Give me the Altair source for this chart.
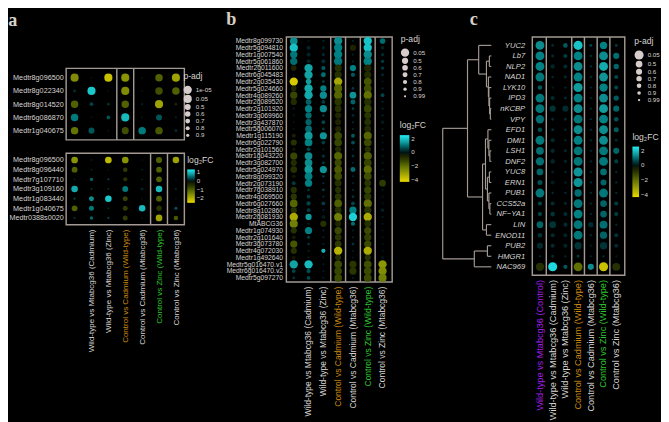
import json
import altair as alt
import pandas as pd

FONT = "Liberation Sans, Arial, sans-serif"
TXT = "#d8d5d2"
BOX = "#a39a94"
ORANGE = "#cc8a12"
GREEN = "#2fc52f"
PURPLE = "#a21ee8"

# ---------------- comparisons (x) ----------------
comparisons = [
    "Wild-type vs Mtabcg36 (Control)",
    "Wild-type vs Mtabcg36 (Cadmium)",
    "Wild-type vs Mtabcg36 (Zinc)",
    "Control vs Cadmium (Wild-type)",
    "Control vs Cadmium (Mtabcg36)",
    "Control vs Zinc (Wild-type)",
    "Control vs Zinc (Mtabcg36)",
]
labels_ab = [""] + comparisons[1:]
colors_ab = {4: ORANGE, 6: GREEN}
colors_c = {1: PURPLE, 4: ORANGE, 6: GREEN}

# ---------------- panel a (top) ----------------
a_top_genes = ["Medtr8g096500", "Medtr8g022340", "Medtr8g014520", "Medtr6g086870", "Medtr1g040675"]
a_top_bold = ["Medtr8g096500", "Medtr1g040675"]
a_top_lfc = [
    [-1.5, 0.0, -2.2, -1.6, 0.0, -1.0, -1.8],
    [0.2, 1.1, 0.0, -1.5, 0.0, -0.8, -1.0],
    [-1.0, 0.3, 0.2, -1.0, 0.1, -1.8, -0.3],
    [0.6, 0.0, 0.4, 1.0, 0.0, 0.4, 0.1],
    [-1.2, 0.4, 0.0, -0.8, 0.6, -0.9, 0.2],
]
a_top_padj = [
    [0.05, 0.99, 0.05, 0.05, 0.99, 0.2, 0.05],
    [0.95, 0.05, 0.99, 0.05, 0.99, 0.2, 0.2],
    [0.2, 0.85, 0.95, 0.2, 0.99, 0.05, 0.95],
    [0.2, 0.99, 0.85, 0.05, 0.99, 0.5, 0.99],
    [0.2, 0.5, 0.99, 0.3, 0.2, 0.2, 0.95],
]
a_top_dividers = [3, 4]

# ---------------- panel a (bottom) ----------------
a_bot_genes = ["Medtr8g096500", "Medtr8g096440", "Medtr7g107710", "Medtr3g109160",
               "Medtr1g083440", "Medtr1g040675", "Medtr0388s0020"]
a_bot_bold = ["Medtr8g096500", "Medtr1g040675"]
a_bot_lfc = [
    [-1.6, 0.1, -2.1, -1.6, 0.0, -1.0, -1.8],
    [-1.0, 0.1, 0.0, -0.6, 0.1, -1.0, 0.0],
    [0.1, 0.5, 0.3, -0.5, 0.1, -1.0, 0.0],
    [0.9, 0.2, 0.2, 0.6, 0.1, 1.0, 0.2],
    [0.3, 0.7, 1.1, -0.7, 0.0, -1.0, 0.0],
    [-1.0, 0.6, 0.2, -0.6, 1.0, -0.5, 0.4],
    [0.2, 0.5, 0.3, -0.6, 0.0, -1.8, -0.9],
]
a_bot_padj = [
    [0.05, 0.99, 0.05, 0.05, 0.99, 0.2, 0.1],
    [0.3, 0.99, 0.99, 0.6, 0.99, 0.3, 0.99],
    [0.99, 0.8, 0.95, 0.7, 0.99, 0.3, 0.99],
    [0.1, 0.95, 0.99, 0.3, 0.85, 0.1, 0.99],
    [0.95, 0.5, 0.1, 0.5, 0.99, 0.3, 0.99],
    [0.3, 0.5, 0.99, 0.5, 0.1, 0.4, 0.85],
    [0.95, 0.8, 0.95, 0.5, 0.99, 0.05, 0.6],
]
a_bot_dividers = [5, 6]

# ---------------- panel b ----------------
b_genes = ["Medtr8g099730", "Medtr5g094810", "Medtr1g007540", "Medtr5g061860", "Medtr2g011600",
           "Medtr6g045483", "Medtr2g035430", "Medtr5g024660", "Medtr4g089260", "Medtr2g089520",
           "Medtr2g101920", "Medtr3g069960", "Medtr3g437870", "Medtr5g006070", "Medtr1g115190",
           "Medtr6g022790", "Medtr2g101560", "Medtr1g043220", "Medtr3g082700", "Medtr5g024970",
           "Medtr8g099320", "Medtr2g073190", "Medtr7g038910", "Medtr4g069500", "Medtr6g027660",
           "Medtr8g102860", "Medtr2g081930", "MtABCG36", "Medtr1g074930", "Medtr2g101640",
           "Medtr3g073780", "Medtr4g072030", "Medtr1g492640", "Medtr5g016470.v1",
           "Medtr6g016470.v2", "Medtr5g097270"]
b_bold = ["MtABCG36"]
b_lfc = [
    [1.3, 0.0, 0.3, 1.3, 0.3, 2.0, 1.0],
    [2.0, 0.2, 0.1, 1.2, -0.5, 2.0, 0.2],
    [1.1, 0.2, 0.3, 1.2, 0.2, 1.3, 0.3],
    [1.0, 0.2, 0.3, 1.1, 0.2, 1.2, 0.5],
    [-0.5, 1.6, 0.8, -0.8, 1.2, -0.6, 0.5],
    [0.0, 1.6, 1.0, -0.8, 0.8, -0.7, 0.3],
    [-4.0, 1.5, 0.5, -3.2, 0.0, -1.5, 0.0],
    [-0.6, 1.7, 1.2, -1.8, 0.5, -1.4, 0.2],
    [-1.2, 1.7, 1.3, -1.8, 1.4, -2.0, 0.6],
    [-0.7, 0.9, 0.5, -0.9, 0.9, -0.8, 0.2],
    [0.0, 1.2, 1.3, -0.8, 0.5, -1.2, 0.2],
    [0.0, 1.0, 0.4, -0.6, 0.3, -0.9, 0.2],
    [0.0, 0.9, 0.6, -0.5, 0.3, -0.8, 0.1],
    [0.0, 1.0, 0.5, -0.6, 0.3, -0.7, 0.1],
    [-0.4, 1.5, 1.4, -1.3, 0.8, -1.8, 0.2],
    [-0.8, 1.2, 0.5, -1.2, 0.7, -1.3, 0.1],
    [-0.2, 0.6, 0.2, -0.7, 0.2, -0.8, 0.1],
    [-1.2, 1.3, 0.4, -1.8, 0.4, -1.7, 0.1],
    [-0.7, 1.3, 0.5, -1.3, 0.2, -1.2, 0.1],
    [-0.8, 1.5, 1.4, -1.6, 1.0, -1.9, 0.1],
    [-0.2, 1.2, 0.4, -1.4, 0.2, -1.4, 0.0],
    [0.5, 1.2, 0.3, -0.8, 0.2, -0.9, -1.0],
    [-0.8, 0.4, 0.5, -0.8, 0.3, -1.2, 0.1],
    [-0.9, 0.5, 0.3, -0.9, 0.4, -1.0, 0.0],
    [-1.8, 0.6, 0.5, -1.7, 0.6, -2.0, 0.0],
    [-0.8, 0.5, 0.2, -0.8, 1.2, -0.9, 0.2],
    [-3.3, 1.5, 0.1, -2.3, 2.2, -3.3, 0.1],
    [-2.3, 0.2, -0.8, -0.6, 1.0, -0.8, 0.0],
    [-0.8, 1.2, 0.2, -1.3, 0.2, -1.3, 0.0],
    [-0.3, 0.4, 0.2, -0.9, 0.2, -1.1, 0.0],
    [-1.5, 0.4, 0.2, -1.0, 0.4, -1.3, 0.0],
    [-0.8, 0.2, 1.8, -3.5, 0.1, -3.3, 0.0],
    [-0.2, 0.1, 0.1, -0.7, 0.0, -0.8, 0.0],
    [1.6, 1.9, 0.1, -1.3, -0.9, -1.4, -2.8],
    [0.6, 0.7, 0.1, -1.2, -0.9, -1.3, -2.6],
    [0.4, 0.6, 0.1, -1.3, 0.1, -1.3, -2.3],
]
b_padj = [
    [0.2, 0.99, 0.99, 0.05, 0.99, 0.05, 0.6],
    [0.05, 0.8, 0.9, 0.05, 0.5, 0.05, 0.9],
    [0.3, 0.8, 0.9, 0.05, 0.99, 0.05, 0.9],
    [0.3, 0.8, 0.8, 0.05, 0.99, 0.05, 0.9],
    [0.6, 0.05, 0.8, 0.3, 0.5, 0.3, 0.9],
    [0.99, 0.05, 0.7, 0.3, 0.8, 0.3, 0.95],
    [0.05, 0.6, 0.95, 0.05, 0.99, 0.2, 0.99],
    [0.6, 0.05, 0.5, 0.1, 0.95, 0.2, 0.99],
    [0.3, 0.05, 0.3, 0.1, 0.4, 0.1, 0.85],
    [0.5, 0.6, 0.85, 0.3, 0.7, 0.3, 0.99],
    [0.95, 0.3, 0.3, 0.4, 0.95, 0.2, 0.99],
    [0.99, 0.5, 0.95, 0.5, 0.95, 0.4, 0.99],
    [0.99, 0.5, 0.85, 0.5, 0.99, 0.4, 0.9],
    [0.99, 0.4, 0.95, 0.5, 0.99, 0.4, 0.99],
    [0.8, 0.1, 0.3, 0.2, 0.85, 0.1, 0.99],
    [0.5, 0.2, 0.85, 0.2, 0.85, 0.2, 0.99],
    [0.9, 0.85, 0.99, 0.5, 0.99, 0.5, 0.99],
    [0.3, 0.2, 0.9, 0.1, 0.95, 0.1, 0.99],
    [0.5, 0.2, 0.95, 0.3, 0.99, 0.2, 0.99],
    [0.4, 0.1, 0.3, 0.2, 0.7, 0.1, 0.99],
    [0.85, 0.2, 0.95, 0.2, 0.99, 0.2, 0.99],
    [0.85, 0.3, 0.99, 0.4, 0.99, 0.4, 0.4],
    [0.5, 0.95, 0.95, 0.5, 0.99, 0.3, 0.99],
    [0.5, 0.85, 0.99, 0.4, 0.95, 0.3, 0.99],
    [0.2, 0.8, 0.85, 0.2, 0.85, 0.1, 0.99],
    [0.5, 0.85, 0.99, 0.4, 0.3, 0.3, 0.9],
    [0.05, 0.5, 0.85, 0.1, 0.05, 0.05, 0.99],
    [0.1, 0.99, 0.5, 0.5, 0.8, 0.4, 0.99],
    [0.5, 0.3, 0.99, 0.3, 0.99, 0.3, 0.99],
    [0.85, 0.9, 0.99, 0.4, 0.99, 0.3, 0.99],
    [0.3, 0.95, 0.99, 0.4, 0.95, 0.3, 0.99],
    [0.5, 0.99, 0.8, 0.05, 0.99, 0.05, 0.99],
    [0.85, 0.99, 0.99, 0.5, 0.99, 0.5, 0.9],
    [0.05, 0.05, 0.99, 0.2, 0.3, 0.2, 0.05],
    [0.85, 0.8, 0.99, 0.2, 0.3, 0.2, 0.05],
    [0.95, 0.85, 0.99, 0.2, 0.99, 0.2, 0.1],
]
b_dividers = [3, 4, 5, 6]

# ---------------- panel c ----------------
c_genes = ["YUC2", "Lb7", "NLP2", "NAD1", "LYK10", "IPD3", "nKCBP", "VPY", "EFD1", "DMI1", "LSH1",
           "DNF2", "YUC8", "ERN1", "PUB1", "CCS52a", "NF\u2212YA1", "LIN", "ENOD11", "PUB2", "HMGR1", "NAC969"]
c_lfc = [
    [1.3, 0.3, 0.8, 2.0, 0.6, 1.2, 0.5],
    [1.2, 0.3, 0.5, 1.2, 0.4, 1.3, 1.0],
    [1.2, 0.2, 0.3, 1.3, 0.4, 1.7, 0.9],
    [1.1, 0.3, 0.3, 1.2, 0.4, 1.4, 0.6],
    [0.8, 0.1, 0.3, 1.5, 0.3, 1.2, 0.6],
    [1.1, 0.3, 0.3, 1.2, 0.3, 1.3, 0.8],
    [1.1, 0.4, 0.3, 1.3, 0.3, 1.5, 0.9],
    [1.0, 0.3, 0.3, 1.1, 0.3, 1.2, 0.7],
    [0.7, 0.3, 0.3, 1.3, 0.3, 1.3, 0.8],
    [1.1, 0.3, 0.3, 1.2, 0.3, 1.3, 0.3],
    [1.0, 0.3, 0.3, 1.1, 0.3, 1.1, 0.9],
    [1.0, 0.2, 0.3, 1.1, 0.3, 1.1, 0.5],
    [0.9, 0.1, 0.3, 1.4, 0.3, 1.0, 0.3],
    [0.7, 0.1, 0.2, 1.4, 0.3, 0.9, 0.3],
    [1.1, 0.3, 0.3, 1.0, 0.3, 1.1, 0.3],
    [0.6, 0.3, 0.3, 1.1, 0.3, 0.9, 0.5],
    [0.6, 0.4, 0.3, 1.2, 0.3, 0.9, 0.5],
    [0.9, 0.4, 0.3, 1.1, 0.3, 1.0, 0.3],
    [0.4, 0.3, 0.2, 1.1, 0.3, 0.9, 0.4],
    [0.3, 0.3, 0.2, 0.4, 0.1, 0.4, 0.3],
    [0.3, 0.3, 0.3, 0.5, 0.2, 0.4, 0.1],
    [-0.8, 2.3, 0.8, -2.0, 1.3, -3.8, -0.8],
]
c_padj = [
    [0.1, 0.95, 0.8, 0.05, 0.95, 0.4, 0.95],
    [0.1, 0.95, 0.85, 0.1, 0.99, 0.1, 0.6],
    [0.1, 0.8, 0.85, 0.1, 0.99, 0.1, 0.7],
    [0.1, 0.99, 0.95, 0.1, 0.99, 0.1, 0.85],
    [0.8, 0.99, 0.99, 0.05, 0.99, 0.2, 0.85],
    [0.1, 0.85, 0.95, 0.1, 0.99, 0.1, 0.7],
    [0.1, 0.6, 0.6, 0.1, 0.99, 0.1, 0.6],
    [0.2, 0.95, 0.95, 0.1, 0.99, 0.1, 0.8],
    [0.8, 0.95, 0.99, 0.1, 0.99, 0.1, 0.75],
    [0.1, 0.85, 0.99, 0.1, 0.99, 0.1, 0.95],
    [0.3, 0.85, 0.95, 0.1, 0.99, 0.1, 0.6],
    [0.2, 0.8, 0.95, 0.1, 0.99, 0.1, 0.85],
    [0.5, 0.95, 0.99, 0.05, 0.99, 0.5, 0.99],
    [0.75, 0.85, 0.99, 0.05, 0.99, 0.6, 0.99],
    [0.1, 0.99, 0.99, 0.4, 0.99, 0.1, 0.99],
    [0.85, 0.85, 0.95, 0.1, 0.99, 0.5, 0.85],
    [0.85, 0.8, 0.85, 0.1, 0.99, 0.5, 0.85],
    [0.5, 0.5, 0.85, 0.1, 0.7, 0.3, 0.99],
    [0.8, 0.85, 0.85, 0.1, 0.99, 0.4, 0.85],
    [0.6, 0.85, 0.85, 0.4, 0.99, 0.4, 0.85],
    [0.99, 0.95, 0.99, 0.95, 0.99, 0.99, 0.99],
    [0.2, 0.05, 0.85, 0.1, 0.6, 0.05, 0.3],
]
c_dividers = [1, 3, 4, 5, 6]

# dendrogram merges: (left, right, height); merge k is referred to as "m<k>"
c_tree = [
    ("Lb7", "NLP2", 0.4), ("nKCBP", "VPY", 0.2), ("IPD3", "m1", 0.35), ("LYK10", "m2", 0.5),
    ("NAD1", "m3", 0.6), ("m0", "m4", 1.0), ("YUC2", "m5", 2.6), ("LSH1", "DNF2", 0.3),
    ("DMI1", "m7", 0.5), ("EFD1", "m8", 0.7), ("YUC8", "ERN1", 0.4), ("CCS52a", "NF\u2212YA1", 0.3),
    ("PUB1", "m11", 0.5), ("m10", "m12", 0.8), ("m9", "m13", 1.2), ("LIN", "ENOD11", 1.0),
    ("m14", "m15", 1.8), ("m6", "m16", 4.9), ("PUB2", "HMGR1", 0.8), ("m18", "NAC969", 3.5),
    ("m17", "m19", 10.0),
]

a_padj_legend = [1e-05, 0.05, 0.5, 0.6, 0.7, 0.8, 0.9]
bc_padj_legend = [0.05, 0.5, 0.6, 0.7, 0.8, 0.9, 0.99]


def color_scale(lo, hi):
    return alt.Scale(domain=[lo, lo / 2, 0, hi / 2, hi],
                     range=["#ecd800", "#6a7806", "#000000", "#0c8a8c", "#22eef4"])


def yaxis(genes, fs, bold=(), italic=False, pad=3):
    kw = {}
    if bold:
        test = f"indexof({json.dumps(list(bold))}, datum.label) >= 0"
        kw["labelFontWeight"] = {"condition": {"test": test, "value": "bold"}, "value": "normal"}
        kw["labelFontStyle"] = {"condition": {"test": "datum.label == 'MtABCG36'", "value": "italic"},
                                "value": "italic" if italic else "normal"}
    else:
        kw["labelFontStyle"] = "italic" if italic else "normal"
    return alt.Axis(values=list(range(1, len(genes) + 1)),
                    labelExpr=f"{json.dumps([''] + genes)}[datum.value]",
                    labelFontSize=fs, labelOverlap=False, labelFlush=False, title=None,
                    labelPadding=pad, **kw)


def panel(genes, lfc, padj, dividers, *, xdom, ydom, width, height, cscale, srange,
          ax_y, xlabels=None, xcolors=None, xfs=7.8, size_legend=None, color_legend=None):
    rows = []
    for i in range(len(genes)):
        for j in range(7):
            rows.append({"row": i + 1, "col": j + 1, "lfc": lfc[i][j], "padj": padj[i][j]})
    df = pd.DataFrame(rows)
    xs = alt.Scale(domain=xdom, nice=False, zero=False)
    ys = alt.Scale(domain=ydom, nice=False, zero=False, reverse=True)
    pts = alt.Chart(df).mark_circle(opacity=1).encode(
        x=alt.X("col:Q", scale=xs, axis=None),
        y=alt.Y("row:Q", scale=ys, axis=ax_y),
        color=alt.Color("lfc:Q", scale=cscale, legend=color_legend),
        size=alt.Size("padj:Q", scale=alt.Scale(domain=[0, 1], range=srange), legend=size_legend),
    )
    div = alt.Chart(pd.DataFrame({"d": [d + 0.5 for d in dividers]})).mark_rule(
        color=BOX, strokeWidth=1.5).encode(x=alt.X("d:Q", scale=xs))
    layers = [pts, div]
    if xlabels is not None:
        ldf = pd.DataFrame({"col": list(range(1, 8)), "label": xlabels,
                            "tc": [xcolors.get(k, TXT) for k in range(1, 8)]})
        lab = alt.Chart(ldf).mark_text(angle=270, align="right", baseline="middle",
                                       fontSize=xfs, font=FONT).encode(
            x=alt.X("col:Q", scale=xs),
            y=alt.value(height + 5),
            text="label:N",
            color=alt.Color("tc:N", scale=None),
        )
        layers.append(lab)
    return alt.layer(*layers).properties(width=width, height=height)


def size_leg(values, x, y):
    return alt.Legend(title="p-adj", values=values, orient="none", legendX=x, legendY=y,
                      symbolFillColor="#d6cccc", symbolStrokeColor="#d6cccc", symbolStrokeWidth=0,
                      symbolType="circle", labelFontSize=6.5, titleFontSize=9, rowPadding=0.5,
                      labelExpr="datum.value < 0.001 ? '1e-05' : format(datum.value, '~g')")


def color_leg(values, x, y, length, thick):
    return alt.Legend(title="log\u2082FC", values=values, orient="none", legendX=x, legendY=y,
                      direction="vertical", gradientLength=length, gradientThickness=thick,
                      gradientStrokeWidth=0, labelFontSize=6.5, titleFontSize=9)


# ---- panel a ----
spacer = alt.Chart(pd.DataFrame({"v": [0]})).mark_point(opacity=0).encode(
    x=alt.X("v:Q", axis=None), y=alt.Y("v:Q", axis=None)
).properties(width=10, height=20, view=alt.ViewBackground(stroke="transparent"))

a_top = panel(a_top_genes, a_top_lfc, a_top_padj, a_top_dividers,
              xdom=[0.5, 7.5], ydom=[0.3, 5.7], width=124, height=75,
              cscale=color_scale(-2.5, 1.35), srange=[76, 4],
              ax_y=yaxis(a_top_genes, 7.6, a_top_bold),
              size_legend=size_leg(a_padj_legend, 123, 4), color_legend=None)
a_bot = panel(a_bot_genes, a_bot_lfc, a_bot_padj, a_bot_dividers,
              xdom=[0.5, 7.5], ydom=[0.3, 7.7], width=124, height=75,
              cscale=color_scale(-2.5, 1.35), srange=[52, 3],
              ax_y=yaxis(a_bot_genes, 7.6, a_bot_bold),
              xlabels=labels_ab, xcolors=colors_ab, xfs=8.4,
              size_legend=None, color_legend=color_leg([1, 0, -1, -2], 127, 3, 35, 8))
panel_a = alt.vconcat(spacer, a_top, a_bot, spacing=10, title="a").resolve_scale(
    color="independent", size="independent")

# ---- panel b ----
panel_b = panel(b_genes, b_lfc, b_padj, b_dividers,
                xdom=[0.5, 7.65], ydom=[0.4, 36.6], width=111, height=257,
                cscale=color_scale(-4.3, 2.55), srange=[80, 4.5],
                ax_y=yaxis(b_genes, 7.1, b_bold, pad=4),
                xlabels=labels_ab, xcolors=colors_ab, xfs=8.9,
                size_legend=size_leg(bc_padj_legend, 120, -2),
                color_legend=color_leg([2, 0, -2, -4], 119, 89, 49, 10)).properties(title="b")

# ---- panel c ----
leaf_y = {g: i + 1 for i, g in enumerate(c_genes)}
node_y = dict(leaf_y)
node_h = {g: 0.0 for g in c_genes}
segs = []
for k, (l, r, h) in enumerate(c_tree):
    yl, yr = node_y[l], node_y[r]
    segs.append({"x": h, "x2": h, "y": yl, "y2": yr})
    segs.append({"x": node_h[l], "x2": h, "y": yl, "y2": yl})
    segs.append({"x": node_h[r], "x2": h, "y": yr, "y2": yr})
    node_y[f"m{k}"] = (yl + yr) / 2
    node_h[f"m{k}"] = h
c_ydom = [0.2, 22.8]
dendro = alt.Chart(pd.DataFrame(segs)).mark_rule(color=BOX, strokeWidth=1.2).encode(
    x=alt.X("x:Q", scale=alt.Scale(domain=[10.2, 0], nice=False, zero=False), axis=None),
    x2="x2:Q",
    y=alt.Y("y:Q", scale=alt.Scale(domain=c_ydom, nice=False, zero=False, reverse=True), axis=None),
    y2="y2:Q",
).properties(width=52, height=250, view=alt.ViewBackground(stroke="transparent"))

c_heat = panel(c_genes, c_lfc, c_padj, c_dividers,
               xdom=[0.4, 7.67], ydom=c_ydom, width=97, height=250,
               cscale=color_scale(-4.3, 2.55), srange=[95, 5],
               ax_y=yaxis(c_genes, 8, italic=True, pad=8),
               xlabels=comparisons, xcolors=colors_c, xfs=9.6,
               size_legend=size_leg(bc_padj_legend, 107, 0),
               color_legend=color_leg([2, 0, -2, -4], 105, 101, 53, 7))
panel_c = alt.hconcat(dendro, c_heat, spacing=0,
                      title=alt.TitleParams("c", dx=30)).resolve_scale(color="independent", size="independent")

ab = alt.hconcat(panel_a, panel_b, spacing=11).resolve_scale(color="independent", size="independent")
chart = alt.hconcat(ab, panel_c, spacing=14).resolve_scale(
    color="independent", size="independent"
).properties(padding={"left": 0, "top": -9, "right": 0, "bottom": 0}).configure(
    background="#000000", font=FONT
).configure_view(stroke=BOX, strokeWidth=1.5).configure_axis(
    labelColor=TXT, domain=False, ticks=False, grid=False, labelFont=FONT
).configure_legend(
    labelColor=TXT, titleColor=TXT, labelFont=FONT, titleFont=FONT, titleFontWeight="normal"
).configure_title(
    color="#d8d0c8", font="Liberation Serif", fontSize=19, fontWeight="bold", anchor="start", offset=7
)

chart.save("out.html", embed_options={"renderer": "svg", "actions": False})
